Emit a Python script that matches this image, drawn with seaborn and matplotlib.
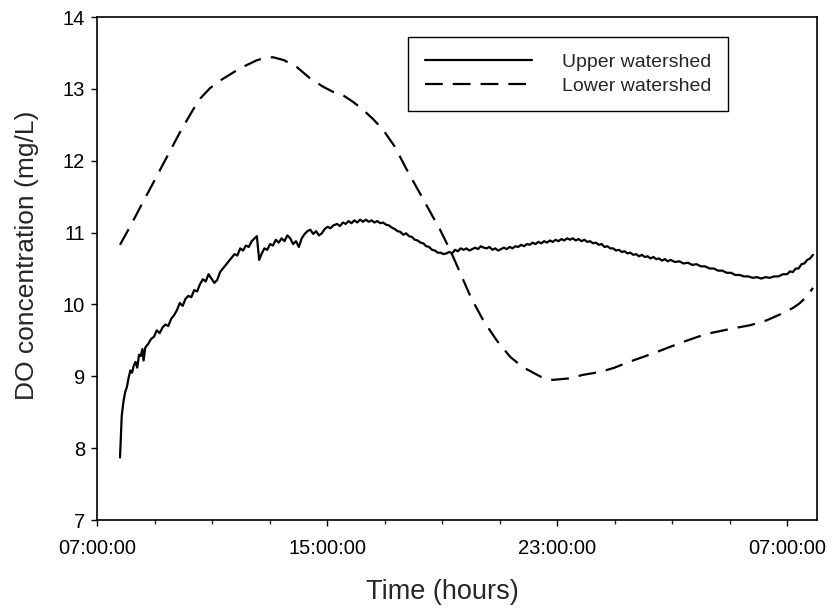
import matplotlib
matplotlib.use("Agg")
import matplotlib.pyplot as plt
import seaborn as sns
import pandas as pd
from matplotlib.ticker import FixedLocator, MultipleLocator

# ---- data (hours after 07:00:00, DO mg/L) ----
upper_hours = [0.80, 0.83, 0.86, 0.92, 0.98, 1.04, 1.10, 1.16, 1.22, 1.28, 1.34, 1.40, 1.46, 1.52,
               1.58, 1.62, 1.68, 1.78, 1.88, 1.98, 2.08, 2.18, 2.28, 2.38, 2.48, 2.58, 2.68, 2.78,
               2.88, 2.98, 3.08, 3.18, 3.28, 3.38, 3.48, 3.58, 3.68, 3.78, 3.88, 3.98, 4.08, 4.18,
               4.28, 4.38, 4.48, 4.58, 4.68, 4.78, 4.88, 4.98, 5.08, 5.18, 5.28, 5.38, 5.48, 5.56,
               5.64, 5.72, 5.82, 5.92, 6.02, 6.12, 6.22, 6.32, 6.42, 6.52, 6.62, 6.72, 6.82, 6.92,
               7.02, 7.12, 7.22, 7.32, 7.42, 7.52, 7.62, 7.72, 7.82, 7.92, 8.02, 8.12, 8.22,
               8.35, 8.45, 8.55, 8.65, 8.75, 8.85, 8.95, 9.05, 9.15, 9.25, 9.35, 9.45, 9.55, 9.65,
               9.75, 9.85, 9.95, 10.05, 10.15, 10.25, 10.35, 10.45, 10.55, 10.65, 10.75, 10.85,
               10.95, 11.05, 11.15, 11.25, 11.35, 11.45, 11.55, 11.65, 11.75, 11.85, 11.95, 12.05,
               12.15, 12.25, 12.35, 12.45, 12.55, 12.65, 12.75, 12.85, 12.95, 13.05, 13.15, 13.25,
               13.35, 13.45, 13.55, 13.65, 13.75, 13.85, 13.95, 14.05, 14.15, 14.25, 14.35, 14.45,
               14.55, 14.65, 14.75, 14.85, 14.95, 15.05, 15.15, 15.25, 15.35, 15.45, 15.55, 15.65,
               15.75, 15.85, 15.95, 16.05, 16.15, 16.25, 16.35, 16.45, 16.55, 16.65, 16.75, 16.85,
               16.95, 17.05, 17.15, 17.25, 17.35, 17.45, 17.55, 17.65, 17.75, 17.85, 17.95, 18.05,
               18.15, 18.25, 18.35, 18.45, 18.55, 18.65, 18.75, 18.85, 18.95, 19.05, 19.15, 19.25,
               19.35, 19.45, 19.55, 19.65, 19.75, 19.85, 19.95, 20.10, 20.25, 20.40, 20.55, 20.70,
               20.85, 21.00, 21.15, 21.30, 21.45, 21.60, 21.75, 21.90, 22.05, 22.20, 22.35, 22.50,
               22.65, 22.80, 22.95, 23.10, 23.25, 23.40, 23.55, 23.70, 23.85, 24.00, 24.10, 24.20,
               24.30, 24.40, 24.50, 24.60, 24.70, 24.80, 24.90]
upper_do = [7.87, 8.15, 8.45, 8.65, 8.78, 8.85, 8.98, 9.08, 9.05, 9.15, 9.20, 9.12, 9.30, 9.28,
            9.38, 9.22, 9.40, 9.45, 9.52, 9.55, 9.64, 9.60, 9.68, 9.72, 9.70, 9.80, 9.85, 9.92,
            10.02, 9.98, 10.08, 10.12, 10.10, 10.20, 10.18, 10.28, 10.35, 10.32, 10.42, 10.36, 10.30, 10.34,
            10.45, 10.50, 10.55, 10.60, 10.65, 10.70, 10.68, 10.78, 10.75, 10.82, 10.80, 10.88, 10.92, 10.95,
            10.62, 10.70, 10.78, 10.76, 10.84, 10.82, 10.90, 10.86, 10.92, 10.88, 10.96, 10.92, 10.84, 10.88,
            10.80, 10.92, 10.98, 11.02, 11.04, 10.98, 11.02, 10.96, 10.99, 11.05, 11.08, 11.06, 11.10,
            11.12, 11.09, 11.14, 11.12, 11.16, 11.13, 11.17, 11.14, 11.18, 11.15, 11.18, 11.15, 11.17, 11.14,
            11.16, 11.13, 11.14, 11.11, 11.10, 11.07, 11.05, 11.02, 11.01, 10.97, 10.99, 10.95,
            10.94, 10.90, 10.89, 10.86, 10.85, 10.81, 10.80, 10.76, 10.75, 10.72, 10.72, 10.70,
            10.71, 10.73, 10.71, 10.76, 10.74, 10.78, 10.76, 10.78, 10.75, 10.77, 10.79, 10.77,
            10.81, 10.79, 10.78, 10.80, 10.76, 10.78, 10.75, 10.77, 10.79, 10.77, 10.80, 10.78,
            10.81, 10.80, 10.83, 10.81, 10.84, 10.83, 10.86, 10.84, 10.87, 10.85, 10.88, 10.86,
            10.89, 10.87, 10.90, 10.88, 10.91, 10.89, 10.92, 10.90, 10.92, 10.89, 10.91, 10.88,
            10.90, 10.87, 10.88, 10.85, 10.86, 10.83, 10.84, 10.80, 10.81, 10.78, 10.78, 10.75,
            10.76, 10.73, 10.74, 10.71, 10.72, 10.69, 10.70, 10.67, 10.69, 10.66, 10.67, 10.64,
            10.66, 10.63, 10.64, 10.61, 10.63, 10.60, 10.62, 10.59, 10.60, 10.57, 10.58, 10.55,
            10.56, 10.53, 10.53, 10.50, 10.50, 10.47, 10.47, 10.44, 10.44, 10.41, 10.41, 10.39,
            10.39, 10.37, 10.38, 10.36, 10.38, 10.37, 10.39, 10.39, 10.42, 10.42, 10.46, 10.45,
            10.50, 10.50, 10.56, 10.57, 10.62, 10.64, 10.69]

lower_hours = [0.80, 1.20, 1.50, 1.90, 2.19, 2.60, 2.89, 3.34, 3.60, 3.93, 4.30, 4.87, 5.20,
               5.57, 5.85, 6.12, 6.50, 6.96, 7.40, 7.86, 8.20, 8.56, 8.90, 9.25, 9.60, 9.95,
               10.35, 10.78, 11.35, 11.93, 12.30, 12.63, 13.00, 13.43, 13.90, 14.37, 14.80,
               15.17, 15.50, 15.86, 16.40, 16.90, 17.50, 18.00, 18.50, 19.00, 19.48, 20.00,
               20.40, 20.90, 21.32, 21.80, 22.30, 22.71, 23.30, 23.86, 24.20, 24.45, 24.70, 24.90]
lower_do = [10.83, 11.12, 11.35, 11.65, 11.87, 12.18, 12.40, 12.71, 12.87, 13.01, 13.12, 13.26,
            13.33, 13.40, 13.43, 13.44, 13.40, 13.30, 13.15, 13.03, 12.96, 12.91, 12.82, 12.71,
            12.58, 12.43, 12.20, 11.87, 11.46, 11.04, 10.74, 10.44, 10.10, 9.78, 9.50, 9.27,
            9.13, 9.05, 8.98, 8.95, 8.97, 9.02, 9.06, 9.12, 9.20, 9.27, 9.34, 9.42, 9.48, 9.55,
            9.60, 9.64, 9.68, 9.71, 9.78, 9.88, 9.95, 10.02, 10.12, 10.23]

series_names = ["Upper watershed", "Lower watershed"]
x_tick_hours = [0, 8, 16, 24]
x_tick_labels = ["07:00:00", "15:00:00", "23:00:00", "07:00:00"]
y_ticks = [7, 8, 9, 10, 11, 12, 13, 14]

df = pd.concat([
    pd.DataFrame({"hours": upper_hours, "DO": upper_do, "series": series_names[0]}),
    pd.DataFrame({"hours": lower_hours, "DO": lower_do, "series": series_names[1]}),
], ignore_index=True)

sns.set_style("ticks")
plt.rcParams["font.family"] = ["Liberation Sans", "DejaVu Sans"]

fig = plt.figure(figsize=(8.35, 6.08), dpi=100)
ax = fig.add_axes([97 / 835, 88 / 608, 720 / 835, 503 / 608])

sns.lineplot(data=df, x="hours", y="DO", style="series", hue="series",
             palette={series_names[0]: "black", series_names[1]: "black"},
             dashes={series_names[0]: "", series_names[1]: (8, 4.5)},
             linewidth=1.6, sort=False, estimator=None, ax=ax)

ax.set_xlim(0, 25.04)
ax.set_ylim(7, 14)
ax.xaxis.set_major_locator(FixedLocator(x_tick_hours))
ax.set_xticklabels(x_tick_labels)
ax.xaxis.set_minor_locator(MultipleLocator(2))
ax.set_yticks(y_ticks)

for s in ax.spines.values():
    s.set_visible(True)
    s.set_linewidth(1.2)
    s.set_color("black")

ax.tick_params(axis="both", which="major", direction="out", length=4.5, width=1.0,
               labelsize=14.5, colors="black")
ax.tick_params(axis="x", which="major", pad=9)
ax.tick_params(axis="y", which="major", pad=4)
ax.tick_params(axis="x", which="minor", direction="out", length=3, width=1.0)
ax.tick_params(top=False, right=False)

ax.set_xlabel("Time (hours)", fontsize=19.5)
ax.set_ylabel("DO concentration (mg/L)", fontsize=19)
ax.xaxis.set_label_coords(0.479, -0.143)
ax.yaxis.set_label_coords(-0.097, 0.527)
ax.xaxis.label.set_va("center")
ax.xaxis.label.set_ha("center")
ax.yaxis.label.set_va("center")
ax.yaxis.label.set_ha("center")

leg = ax.legend(loc="upper left", bbox_to_anchor=(0.432, 0.960), borderaxespad=0,
                fontsize=14, handlelength=5.55, handletextpad=1.5, labelspacing=0.3,
                borderpad=0.85, frameon=True, fancybox=False, edgecolor="black",
                title=None)
leg.get_frame().set_linewidth(1.0)
leg.get_frame().set_alpha(1)

fig.savefig("out.png", dpi=100, facecolor="white")
